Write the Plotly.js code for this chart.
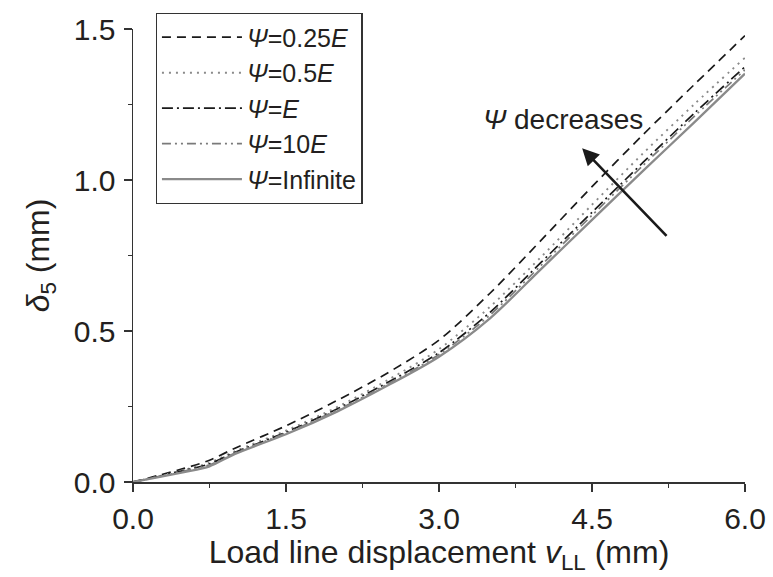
<!DOCTYPE html>
<html>
<head>
<meta charset="utf-8">
<script src="https://cdn.plot.ly/plotly-3.0.1.min.js"></script>
<style>html,body{margin:0;padding:0;background:#fff;}#chart{width:773px;height:577px;}</style>
</head>
<body>
<div id="chart"></div>
<script>
const xVals = [0, 0.25, 0.5, 0.75, 1.0, 1.5, 2.0, 2.5, 3.0, 3.5, 4.0, 4.5, 5.0, 5.5, 6.0];
const psi025E = [0, 0.022, 0.045, 0.072, 0.112, 0.186, 0.270, 0.362, 0.470, 0.625, 0.800, 0.978, 1.150, 1.315, 1.478];
const psi05E  = [0, 0.019, 0.040, 0.064, 0.102, 0.170, 0.248, 0.338, 0.440, 0.580, 0.745, 0.918, 1.088, 1.250, 1.405];
const psiE    = [0, 0.018, 0.038, 0.060, 0.098, 0.165, 0.242, 0.330, 0.428, 0.562, 0.727, 0.893, 1.058, 1.220, 1.375];
const psi10E  = [0, 0.017, 0.036, 0.057, 0.096, 0.162, 0.238, 0.325, 0.422, 0.553, 0.717, 0.883, 1.048, 1.210, 1.365];
const psiInf  = [0, 0.016, 0.033, 0.052, 0.093, 0.158, 0.233, 0.320, 0.415, 0.542, 0.705, 0.868, 1.030, 1.190, 1.352];
const seriesNames = ['<i>Ψ</i>=0.25<i>E</i>', '<i>Ψ</i>=0.5<i>E</i>', '<i>Ψ</i>=<i>E</i>', '<i>Ψ</i>=10<i>E</i>', '<i>Ψ</i>=Infinite'];
const xTicks = [0, 1.5, 3.0, 4.5, 6.0];
const yTicks = [0, 0.5, 1.0, 1.5];

const font = 'Liberation Sans, Arial, Helvetica, sans-serif';
const txt = '#231f20';
const styles = [
  {color:'#1a1a1a', dash:'9px,6px', width:1.7},
  {color:'#8a8a8a', dash:'2px,5px', width:1.9},
  {color:'#1a1a1a', dash:'11px,4px,2px,4px', width:1.7},
  {color:'#7a7a7a', dash:'9px,4px,2px,4px,2px,4px', width:1.7},
  {color:'#8a8a8a', dash:'solid', width:2.3}
];
const ys = [psi025E, psi05E, psiE, psi10E, psiInf];
const traces = ys.map((y,i)=>({
  x: xVals, y: y, type:'scatter', mode:'lines', name: seriesNames[i],
  line: {color: styles[i].color, dash: styles[i].dash, width: styles[i].width, shape:'spline', smoothing:0.8}
}));

const axisCommon = {
  showline:true, linecolor:'#333', linewidth:1.5, mirror:false,
  ticks:'outside', ticklen:8, tickwidth:1.5, tickcolor:'#333',
  showgrid:false, zeroline:false,
  tickfont:{family:font, size:30, color:txt}
};

const layout = {
  width:773, height:577,
  margin:{l:132.5, r:28, t:29, b:95},
  paper_bgcolor:'#fff', plot_bgcolor:'#fff',
  showlegend:true,
  legend:{x:0.037, y:1.035, xanchor:'left', yanchor:'top', bordercolor:'#333', borderwidth:1.3,
    bgcolor:'rgba(255,255,255,0)', font:{family:font, size:25, color:txt}, itemwidth:80,
    tracegroupgap:0},
  xaxis: Object.assign({}, axisCommon, {
    range:[0,6], tickmode:'array', tickvals:xTicks, ticktext:xTicks.map(v=>v.toFixed(1)),
    ticklabelstandoff:1,
    minor:{ticks:'outside', ticklen:4, tickwidth:1.3, tickcolor:'#333', dtick:0.75, tick0:0, showgrid:false},
    title:{text:'Load line displacement <i>v</i><sub>LL</sub> (mm)', font:{family:font, size:32, color:txt}, standoff:4}
  }),
  yaxis: Object.assign({}, axisCommon, {
    range:[0,1.5], tickmode:'array', tickvals:yTicks, ticktext:yTicks.map(v=>v.toFixed(1)),
    ticklabelstandoff:2,
    minor:{ticks:'outside', ticklen:4, tickwidth:1.3, tickcolor:'#333', dtick:0.25, tick0:0, showgrid:false},
    title:{text:'<i>δ</i><sub>5</sub> (mm)', font:{family:font, size:32, color:txt}, standoff:14}
  }),
  annotations:[
    {x:4.403, y:1.105, ax:5.245, ay:0.81, xref:'x', yref:'y', axref:'x', ayref:'y',
     showarrow:true, arrowhead:2, arrowsize:1.3, arrowwidth:2.6, arrowcolor:'#1a1a1a', text:''},
    {x:4.22, y:1.2, xref:'x', yref:'y', showarrow:false, text:'<i>Ψ</i> decreases',
     font:{family:font, size:28, color:txt}}
  ]
};

Plotly.newPlot('chart', traces, layout, {displayModeBar:false, staticPlot:true});
</script>
</body>
</html>
